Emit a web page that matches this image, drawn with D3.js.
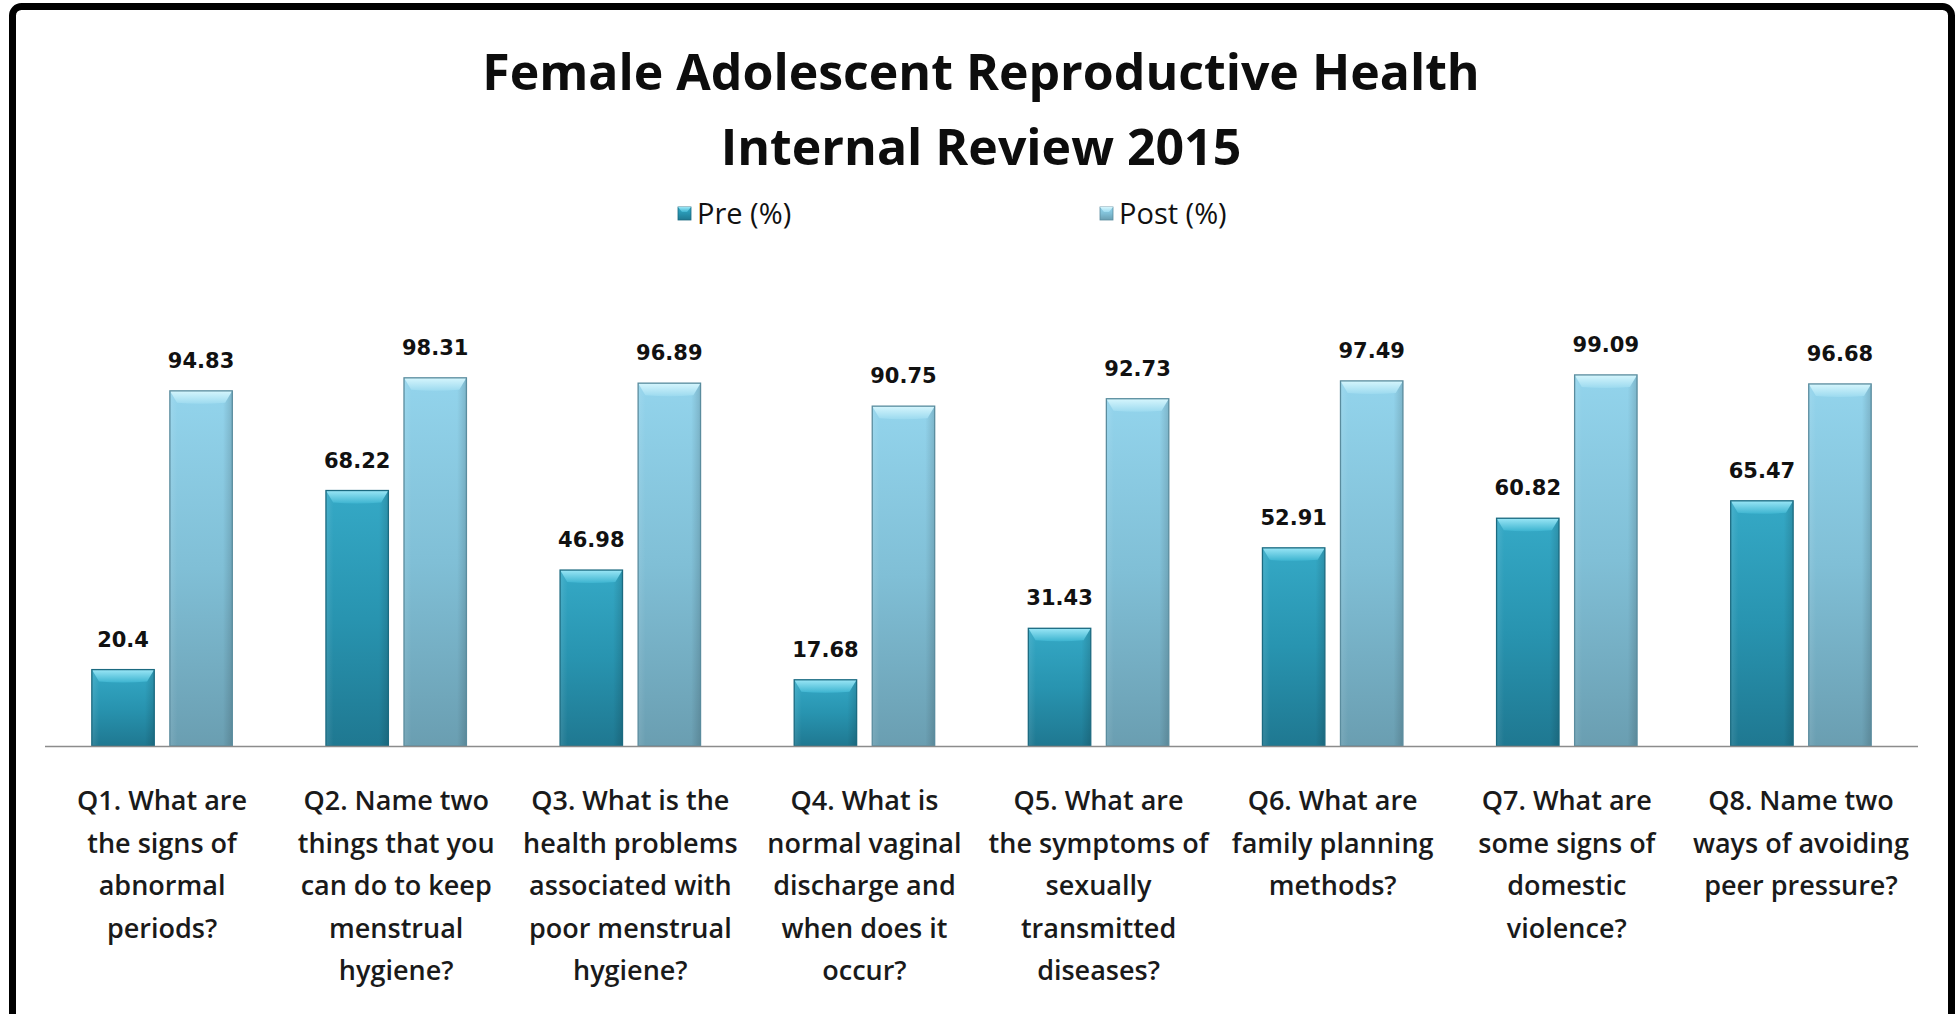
<!DOCTYPE html>
<html>
<head>
<meta charset="utf-8">
<script src="https://cdn.jsdelivr.net/npm/d3@7"></script>
<style>
  html, body { margin: 0; padding: 0; background: #ffffff; }
  svg { display: block; }
</style>
</head>
<body>
<svg id="chart" width="1958" height="1014"></svg>
<script>
// Survey questions (x categories) and the wrapped lines of each axis label
const categories = ["Q1", "Q2", "Q3", "Q4", "Q5", "Q6", "Q7", "Q8"];
const categoryLabels = [
  ["Q1. What are", "the signs of", "abnormal", "periods?"],
  ["Q2. Name two", "things that you", "can do to keep", "menstrual", "hygiene?"],
  ["Q3. What is the", "health problems", "associated with", "poor menstrual", "hygiene?"],
  ["Q4. What is", "normal vaginal", "discharge and", "when does it", "occur?"],
  ["Q5. What are", "the symptoms of", "sexually", "transmitted", "diseases?"],
  ["Q6. What are", "family planning", "methods?"],
  ["Q7. What are", "some signs of", "domestic", "violence?"],
  ["Q8. Name two", "ways of avoiding", "peer pressure?"]
];
// Percentage of correct answers before and after the sessions
const preValues  = [20.4, 68.22, 46.98, 17.68, 31.43, 52.91, 60.82, 65.47];
const postValues = [94.83, 98.31, 96.89, 90.75, 92.73, 97.49, 99.09, 96.68];
const seriesNames = ["Pre (%)", "Post (%)"];
const titleLines = ["Female Adolescent Reproductive Health", "Internal Review 2015"];

const svg = d3.select("#chart");

// frame
svg.append("rect")
  .attr("x", 12.5).attr("y", 6.5)
  .attr("width", 1939).attr("height", 1040)
  .attr("rx", 9).attr("ry", 9)
  .attr("fill", "#ffffff").attr("stroke", "#000000").attr("stroke-width", 7);

const plot = { left: 45, right: 1918, top: 371.5, bottom: 746 };

const x0 = d3.scaleBand().domain(categories).range([plot.left, plot.right]).paddingInner(0.4).paddingOuter(0.2);
const x1 = d3.scaleBand().domain(seriesNames).range([0, x0.bandwidth()]).paddingInner(0.2);
const y = d3.scaleLinear().domain([0, 100]).range([plot.bottom, plot.top]);

// gradients for the bevelled bar look
const defs = svg.append("defs");
const styles = [
  { id: "pre",  body: ["#35a9c6", "#2894b0", "#1f7891"], cap: ["#9ae6f6", "#3db4d0"], stroke: "#1b6a80" },
  { id: "post", body: ["#93d4ec", "#80bfd6", "#6a9eb1"], cap: ["#d6f6fd", "#9cdaef"], stroke: "#5a8c9e" }
];
styles.forEach(s => {
  const g = defs.append("linearGradient").attr("id", s.id + "-body")
    .attr("x1", 0).attr("y1", 0).attr("x2", 0).attr("y2", 1);
  g.append("stop").attr("offset", "0%").attr("stop-color", s.body[0]);
  g.append("stop").attr("offset", "50%").attr("stop-color", s.body[1]);
  g.append("stop").attr("offset", "100%").attr("stop-color", s.body[2]);
  const c = defs.append("linearGradient").attr("id", s.id + "-cap")
    .attr("x1", 0).attr("y1", 0).attr("x2", 0).attr("y2", 1);
  c.append("stop").attr("offset", "0%").attr("stop-color", s.cap[0]);
  c.append("stop").attr("offset", "100%").attr("stop-color", s.cap[1]);
});
const side = defs.append("linearGradient").attr("id", "side-shade")
  .attr("x1", 0).attr("y1", 0).attr("x2", 1).attr("y2", 0);
side.append("stop").attr("offset", "0%").attr("stop-color", "#ffffff").attr("stop-opacity", 0.10);
side.append("stop").attr("offset", "12%").attr("stop-color", "#ffffff").attr("stop-opacity", 0.0);
side.append("stop").attr("offset", "85%").attr("stop-color", "#000000").attr("stop-opacity", 0.0);
side.append("stop").attr("offset", "100%").attr("stop-color", "#000000").attr("stop-opacity", 0.14);

// title
svg.append("g").selectAll("text").data(titleLines).join("text")
  .attr("x", 981).attr("y", (d, i) => 90 + i * 75)
  .attr("text-anchor", "middle")
  .attr("font-family", "'Open Sans', 'Noto Sans', sans-serif")
  .attr("font-weight", 700).attr("font-size", 50)
  .attr("fill", "#0d0d0d")
  .text(d => d);

// bevelled bar drawn at (bx, top) with width bw down to the baseline
function drawBar(g, bx, bw, top, st) {
  const h = plot.bottom - top;
  const b = Math.min(12, h / 2);
  g.append("rect").attr("x", bx).attr("y", top).attr("width", bw).attr("height", h)
    .attr("fill", `url(#${st.id}-body)`);
  g.append("rect").attr("x", bx).attr("y", top).attr("width", bw).attr("height", h)
    .attr("fill", "url(#side-shade)");
  g.append("path")
    .attr("d", `M${bx},${top} L${bx + bw},${top} L${bx + bw - b * 0.6},${top + b} Q${bx + bw / 2},${top + b + 2} ${bx + b * 0.6},${top + b} Z`)
    .attr("fill", `url(#${st.id}-cap)`);
  g.append("rect").attr("x", bx).attr("y", top).attr("width", bw).attr("height", h)
    .attr("fill", "none").attr("stroke", st.stroke).attr("stroke-width", 1.3);
}

const series = [preValues, postValues];
const barsG = svg.append("g");
series.forEach((vals, si) => {
  const st = styles[si];
  vals.forEach((v, i) => {
    const bx = x0(categories[i]) + x1(seriesNames[si]);
    drawBar(barsG, bx, x1.bandwidth(), y(v), st);
  });
});

// value labels
series.forEach((vals, si) => {
  svg.append("g").selectAll("text").data(vals).join("text")
    .attr("x", (d, i) => x0(categories[i]) + x1(seriesNames[si]) + x1.bandwidth() / 2)
    .attr("y", d => y(d) - 23)
    .attr("text-anchor", "middle")
    .attr("font-family", "'DejaVu Sans', sans-serif")
    .attr("font-weight", 700).attr("font-size", 21)
    .attr("fill", "#111111")
    .text(d => d);
});

// x axis line
svg.append("line")
  .attr("x1", plot.left).attr("x2", plot.right)
  .attr("y1", plot.bottom + 0.5).attr("y2", plot.bottom + 0.5)
  .attr("stroke", "#8c8c8c").attr("stroke-width", 1.5);

// category labels
const labG = svg.append("g");
categories.forEach((c, i) => {
  const cx = x0(c) + x0.bandwidth() / 2;
  labG.append("text")
    .attr("text-anchor", "middle")
    .attr("font-family", "'Open Sans', 'Noto Sans', sans-serif")
    .attr("font-weight", 600).attr("font-size", 27)
    .attr("fill", "#1a1a1a")
    .selectAll("tspan").data(categoryLabels[i]).join("tspan")
    .attr("x", cx).attr("y", (d, j) => 810 + j * 42.5)
    .text(d => d);
});

// legend
const legendItems = [
  { name: seriesNames[0], st: styles[0], x: 678 },
  { name: seriesNames[1], st: styles[1], x: 1100 }
];
const lg = svg.append("g");
legendItems.forEach(it => {
  lg.append("rect").attr("x", it.x).attr("y", 207).attr("width", 13).attr("height", 13)
    .attr("fill", `url(#${it.st.id}-body)`).attr("stroke", it.st.stroke).attr("stroke-width", 0.8);
  lg.append("path")
    .attr("d", `M${it.x},207 L${it.x + 13},207 L${it.x + 9},212 L${it.x + 4},212 Z`)
    .attr("fill", `url(#${it.st.id}-cap)`);
  lg.append("text").attr("x", it.x + 19).attr("y", 224)
    .attr("font-family", "'Open Sans', 'Noto Sans', sans-serif")
    .attr("font-size", 29).attr("fill", "#111111")
    .text(it.name);
});
</script>
</body>
</html>
